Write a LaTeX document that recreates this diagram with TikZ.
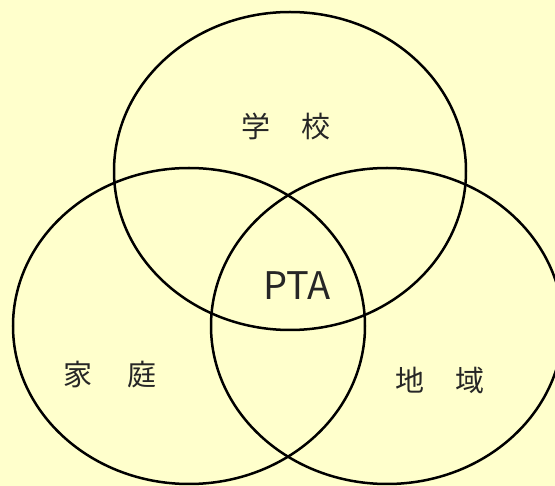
\documentclass[tikz,border=0pt]{standalone}
\usepackage{fontspec}
\newfontfamily\jp{Noto Sans CJK JP}
\definecolor{bgyellow}{HTML}{FFFFCC}
\begin{document}
\begin{tikzpicture}[x=1pt,y=-1pt,
  ring/.style={draw=black,line width=2.5pt},
  lbl/.style={font=\jp\fontsize{29}{32}\selectfont,inner sep=0pt,text=black!85},
  ptalbl/.style={font=\jp\fontsize{38}{40}\selectfont,inner sep=0pt,text=black!85}]
\useasboundingbox (0,0) rectangle (555,486);
\fill[bgyellow] (0,0) rectangle (555,486);
\clip (0,0) rectangle (555,486);
\draw[ring] (290,171) ellipse [x radius=176, y radius=159];
\draw[ring] (189,326) ellipse [x radius=176, y radius=158];
\draw[ring] (387,326) ellipse [x radius=176, y radius=158];
\node[lbl] (school) at (286,126) {学\hspace{31pt}校};
\node[lbl] (home) at (110,375) {家\hspace{35pt}庭};
\node[lbl] (area) at (440,380) {地\hspace{31pt}域};
\node[ptalbl] (pta) at (297,286) {PTA};
\end{tikzpicture}
\end{document}
